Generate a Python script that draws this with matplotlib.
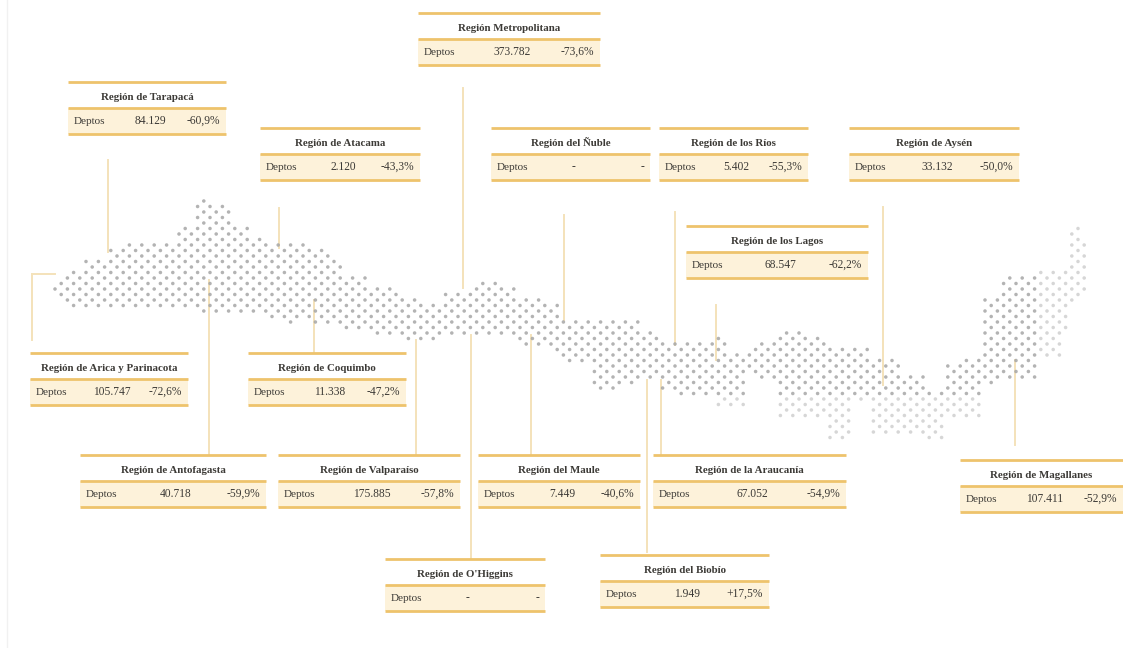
"""Regional panels around a dotted map, drawn in image pixel coordinates."""

import matplotlib
matplotlib.use("Agg")
import matplotlib.pyplot as plt
import numpy as np

# panel contents
regions = ["Región de Tarapacá", "Región de Arica y Parinacota", "Región de Atacama",
           "Región de Coquimbo", "Región de Antofagasta", "Región de Valparaíso",
           "Región Metropolitana", "Región de O'Higgins", "Región del Ñuble",
           "Región del Maule", "Región del Biobío", "Región de la Araucanía",
           "Región de los Ríos", "Región de los Lagos", "Región de Aysén",
           "Región de Magallanes"]
deptos = ["84.129", "105.747", "2.120", "11.338", "40.718", "175.885", "373.782", "-",
          "-", "7.449", "1.949", "67.052", "5.402", "68.547", "33.132", "107.411"]
changes = ["-60,9%", "-72,6%", "-43,3%", "-47,2%", "-59,9%", "-57,8%", "-73,6%", "-",
           "-", "-40,6%", "+17,5%", "-54,9%", "-55,3%", "-62,2%", "-50,0%", "-52,9%"]

# map outline: left edge of each stretch, with its top and bottom in pixels
map_x = [52, 65, 85, 105, 125, 150, 175, 195, 215, 230, 250, 270, 285, 300, 315, 330,
         345, 370, 400, 420, 445, 465, 480, 500, 520, 545, 560, 590, 620, 640, 660, 680,
         700, 715, 730, 745, 760, 780, 800, 830, 850, 870, 900, 925, 945, 965, 985, 1000,
         1020, 1040, 1060, 1070, 1080]
map_top = [280, 268, 258, 250, 245, 240, 228, 197, 202, 225, 238, 245, 240, 245, 250, 260,
           278, 285, 297, 305, 290, 288, 283, 285, 295, 302, 318, 318, 318, 330, 340, 340,
           342, 338, 352, 345, 342, 328, 335, 345, 345, 360, 375, 390, 362, 358, 298, 278,
           275, 270, 265, 225, 240]
map_bottom = [298, 306, 310, 308, 306, 306, 310, 312, 315, 315, 315, 320, 322, 320, 322, 326,
              332, 336, 340, 342, 335, 335, 333, 338, 345, 352, 365, 388, 385, 378, 390, 395,
              395, 408, 406, 376, 380, 420, 420, 440, 402, 435, 436, 440, 420, 420, 386, 380,
              380, 360, 330, 300, 290]

# leader lines
leader_x = [108, 32, 279, 314, 209, 416, 463, 471, 564, 531, 647, 661, 675, 716, 883, 1015]
leader_top = [160, 274, 208, 300, 280, 340, 88, 335, 215, 335, 380, 380, 212, 305, 207, 360]
leader_bottom = [252, 340, 248, 353, 455, 455, 288, 559, 320, 455, 552, 455, 345, 360, 385, 445]

# panel geometry
box_left = [68, 30, 260, 248, 80, 278, 418, 385, 491, 478, 600, 653, 659, 686, 849, 960]
box_right = [226, 188, 420, 406, 266, 460, 600, 545, 650, 640, 769, 846, 808, 868, 1019, 1123]
box_top = [82, 353, 128, 353, 455, 455, 13, 559, 128, 455, 555, 455, 128, 226, 128, 460]

GOLD = "#eec36c"
CREAM = "#fdf2da"
LEADER = "#f4e2ba"
INK = "#3c3a36"
DOT = "#a6a6a6"

plt.rcParams["font.family"] = ["Liberation Serif", "DejaVu Serif"]

fig = plt.figure(figsize=(11.23, 6.48), dpi=100)
ax = fig.add_axes([0, 0, 1, 1])
ax.set_xlim(0, 1123)
ax.set_ylim(648, 0)
ax.axis("off")

# faint edge on the left of the image
ax.plot([7, 7], [0, 648], color="#f1f1f1", lw=1)

# dotted map on a staggered lattice
px, py, alpha = [], [], []
edges = np.array(map_x)
for i, x in enumerate(np.arange(55, 1088, 6.2)):
    k = np.searchsorted(edges, x, side="right") - 1
    offset = 5.5 if i % 2 else 0
    for y in np.arange(190 + offset, 445, 11):
        if map_top[k] <= y <= map_bottom[k]:
            px.append(x)
            py.append(y)
            # the south and the far east fade out in the reference
            alpha.append(0.45 if (x > 1040 or y > 395) else 0.85)
ax.scatter(px, py, s=6.5, c=DOT, alpha=alpha, linewidths=0, zorder=2)

# leaders
for x, y0, y1 in zip(leader_x, leader_top, leader_bottom):
    ax.plot([x, x], [y0, y1], color=LEADER, lw=1.4, zorder=1)
ax.plot([32, 55], [274, 274], color=LEADER, lw=1.4, zorder=1)

# panels
for name, val, chg, x0, x1, top in zip(regions, deptos, changes, box_left, box_right, box_top):
    mid = top + 26
    bottom = top + 52
    ax.fill_between([x0, x1], mid, bottom, color=CREAM, lw=0, zorder=3)
    for y in (top, mid, bottom):
        ax.plot([x0, x1], [y, y], color=GOLD, lw=2, solid_capstyle="butt", zorder=4)
    cx = (x0 + x1) / 2
    ax.text(cx, top + 18, name, ha="center", va="baseline", fontsize=7.8,
            fontweight="bold", color=INK, zorder=5)
    row = mid + 16
    ax.text(x0 + 6, row, "Deptos", ha="left", va="baseline", fontsize=8, color=INK, zorder=5)
    ax.text(cx + 3, row, val, ha="center", va="baseline", fontsize=8.3, color=INK, zorder=5)
    ax.text(x1 - 6, row, chg, ha="right", va="baseline", fontsize=8.3, color=INK, zorder=5)

fig.savefig("out.png", dpi=100)
